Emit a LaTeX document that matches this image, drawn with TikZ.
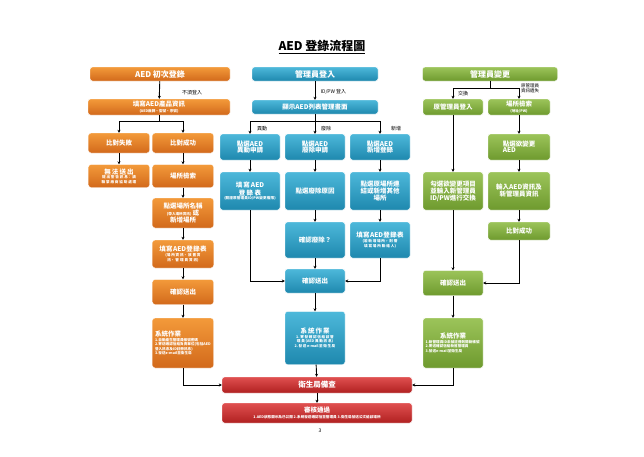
\documentclass[tikz,border=0pt]{standalone}
\usepackage{fontspec}
\setmainfont{Noto Sans CJK TC}
\XeTeXlinebreaklocale "zh"
\XeTeXlinebreakskip=0pt plus 1pt
\usetikzlibrary{arrows.meta}
\newcommand{\sm}[1]{{\fontsize{3.6}{4.4}\selectfont #1}}
\newcommand{\smp}[1]{{\fontsize{3.6}{4.6}\selectfont #1\par}}
\definecolor{oT}{HTML}{F39A3A}\definecolor{oB}{HTML}{D2691B}
\definecolor{bT}{HTML}{4DB8DA}\definecolor{bB}{HTML}{1E88AE}
\definecolor{gT}{HTML}{9CC45A}\definecolor{gB}{HTML}{6E9A2E}
\definecolor{rT}{HTML}{E05050}\definecolor{rB}{HTML}{B02020}
\tikzset{
 bx/.style={rounded corners=2.5pt, draw=white, line width=0.4pt, text=white, align=center, inner sep=1.5pt, font=\fontsize{6.5}{8}\selectfont\bfseries},
 ob/.style={bx, top color=oT, bottom color=oB},
 bb/.style={bx, top color=bT, bottom color=bB},
 gb/.style={bx, top color=gT, bottom color=gB},
 rb/.style={bx, top color=rT, bottom color=rB},
 ar/.style={-{Stealth[length=3pt,width=3pt]}, line width=0.9pt},
 ln/.style={line width=0.9pt},
 lb/.style={font=\fontsize{5}{6}\selectfont, inner sep=0.5pt}
}
\begin{document}
\begin{tikzpicture}[x=1pt,y=-1pt]
\useasboundingbox[fill=white] (0,0) rectangle (644,456);
\node[font=\fontsize{12}{14}\selectfont\bfseries] (title) at (322,47) {\underline{AED 登錄流程圖}};
% orange
\node[ob,minimum width=140,minimum height=14,font=\fontsize{8}{9}\selectfont\bfseries] (a1) at (160,74) {AED 初次登錄};
\node[ob,minimum width=142,minimum height=16] (a2) at (159,107) {填寫AED產品資訊\\[-2pt]\sm{(AED廠牌、型號、序號)}};
\node[ob,minimum width=61,minimum height=20] (a3) at (119,143) {比對失敗};
\node[ob,minimum width=61,minimum height=20] (a4) at (183,143) {比對成功};
\node[ob,minimum width=61,minimum height=23,text width=56] (a5) at (119,176) {無法送出\par\smp{提出警告訊息：請聯繫廠商協助處理}};
\node[ob,minimum width=61,minimum height=23] (a6) at (183,176) {場所檢索};
\node[ob,minimum width=61,minimum height=30] (a7) at (183,213) {點選場所名稱\\[-1pt]\sm{(帶入場所資訊)}\,或\\[-1pt]新增場所};
\node[ob,minimum width=61,minimum height=28,text width=56] (a8) at (183,254) {填寫AED登錄表\par\smp{(場所資訊、放置資訊、管理員資訊)}};
\node[ob,minimum width=61,minimum height=25] (a9) at (183,292) {確認送出};
\node[ob,minimum width=61,minimum height=50,text width=56,align=left] (a10) at (183,343) {系統作業\par\smp{1.自動產生管理員帳號密碼\\2.寄送確認信給負責單位(包括AED登入訊息及ID註冊訊息)\\3.發送e-mail至衛生局}};
\node[lb] (la) at (192,93) {不須登入};
% blue
\node[bb,minimum width=126,minimum height=14,font=\fontsize{8}{9}\selectfont\bfseries] (b1) at (315,74) {管理員登入};
\node[bb,minimum width=126,minimum height=14] (b2) at (315,107) {顯示AED列表管理畫面};
\node[bb,minimum width=60,minimum height=26] (b3) at (250,147) {點選AED\\[-2pt]異動申請};
\node[bb,minimum width=60,minimum height=26] (b4) at (315,147) {點選AED\\[-2pt]廢除申請};
\node[bb,minimum width=60,minimum height=26] (b5) at (380,147) {點選AED\\[-2pt]新增登錄};
\node[bb,minimum width=60,minimum height=38,text width=55] (b6) at (250,191) {填寫AED\\登錄表\par\smp{(驗證原管理員ID/PW變更權限)}};
\node[bb,minimum width=60,minimum height=38] (b7) at (315,191) {點選廢除原因};
\node[bb,minimum width=60,minimum height=38] (b8) at (380,191) {點選原場所連\\[-1pt]結或新增其他\\[-1pt]場所};
\node[bb,minimum width=60,minimum height=36] (b9) at (315,240) {確認廢除？};
\node[bb,minimum width=60,minimum height=36,text width=55] (b10) at (380,240) {填寫AED登錄表\par\smp{(若新增場所，則需填寫場所聯絡人)}};
\node[bb,minimum width=60,minimum height=24] (b11) at (315,281) {確認送出};
\node[bb,minimum width=60,minimum height=53,text width=55] (b12) at (315,338) {系統作業\par\smp{1.寄發確認信給該管理員(AED異動訊息)\\2.發送e-mail至衛生局}};
\node[lb,anchor=west] (lid) at (320,92) {ID/PW 登入};
\node[lb] (l1) at (262,129) {異動};
\node[lb] (l2) at (326,129) {廢除};
\node[lb] (l3) at (396,129) {新增};
% green
\node[gb,minimum width=135,minimum height=14,font=\fontsize{8}{9}\selectfont\bfseries] (g1) at (490,74) {管理員變更};
\node[gb,minimum width=60,minimum height=16] (g2) at (453,107) {原管理員登入};
\node[gb,minimum width=62,minimum height=16] (g3) at (519,107) {場所檢索\\[-2pt]\sm{(地址/PW)}};
\node[gb,minimum width=62,minimum height=26,align=left] (g4) at (519,147) {點選欲變更\\[-2pt]AED\hphantom{變更}};
\node[gb,minimum width=60,minimum height=38] (g5) at (453,191) {勾選欲變更項目\\[-1pt]並輸入新管理員\\[-1pt]ID/PW進行交換};
\node[gb,minimum width=62,minimum height=38] (g6) at (519,191) {輸入AED資訊及\\[-1pt]新管理員資訊};
\node[gb,minimum width=62,minimum height=18] (g7) at (519,231) {比對成功};
\node[gb,minimum width=60,minimum height=25] (g8) at (453,283) {確認送出};
\node[gb,minimum width=60,minimum height=50,text width=55,align=left] (g9) at (453,343) {\centerline{系統作業}\par\smp{1.新管理員ID未被註冊則開新帳號\\2.寄送確認信給新舊管理員\\3.發送e-mail至衛生局}};
\node[lb] (l4) at (463,94) {交換};
\node[lb,align=center,font=\fontsize{4.5}{5}\selectfont] (l5) at (530,88) {原管理員\\資訊遺失};
% red
\node[rb,minimum width=190,minimum height=16,font=\fontsize{7.5}{9}\selectfont\bfseries] (r1) at (317,385) {衛生局備查};
\node[rb,minimum width=190,minimum height=20] (r2) at (317,413) {審核通過\\[-2pt]\sm{1.AED狀態顯示為已公開 2.系統發送確認信至管理員 3.衛生局發送公文給該場所}};
\node[font=\fontsize{5}{6}\selectfont] (pg) at (320,431) {3};
% orange arrows
\draw[ar] (a1) -- (a2);
\coordinate (ja) at (159,121);
\draw[ln] (a2.south -| ja) -- (ja);
\draw[ar] (ja) -| (a3);
\draw[ar] (ja) -| (a4);
\draw[ar] (a3) -- (a5);
\draw[ar] (a4) -- (a6);
\draw[ar] (a6) -- (a7);
\draw[ar] (a7) -- (a8);
\draw[ar] (a8) -- (a9);
\draw[ar] (a9) -- (a10);
\draw[ar] (a10.south) |- (r1.west);
% blue arrows
\draw[ar] (b1) -- (b2);
\coordinate (jb) at (315,121);
\draw[ln] (b2) -- (jb);
\draw[ar] (jb) -| (b3);
\draw[ar] (jb) -- (b4);
\draw[ar] (jb) -| (b5);
\draw[ar] (b3) -- (b6);
\draw[ar] (b4) -- (b7);
\draw[ar] (b5) -- (b8);
\draw[ar] (b7) -- (b9);
\draw[ar] (b8) -- (b10);
\draw[ar] (b9) -- (b11);
\draw[ar] (b6.south) |- (b11.west);
\draw[ar] (b10.south) |- (b11.east);
\draw[ar] (b11) -- (b12);
\draw[ar] (b12) -- (r1);
\draw[ar] (r1) -- (r2);
% green arrows
\coordinate (jg) at (490,88);
\draw[ln] (g1) -- (jg);
\draw[ar] (jg) -| (g2);
\draw[ar] (jg) -| (g3);
\draw[ar] (g2) -- (g5);
\draw[ar] (g3) -- (g4);
\draw[ar] (g4) -- (g6);
\draw[ar] (g6) -- (g7);
\draw[ar] (g5) -- (g8);
\draw[ar] (g7.south) |- (g8.east);
\draw[ar] (g8) -- (g9);
\draw[ar] (g9.south) |- (r1.east);
\end{tikzpicture}
\end{document}
